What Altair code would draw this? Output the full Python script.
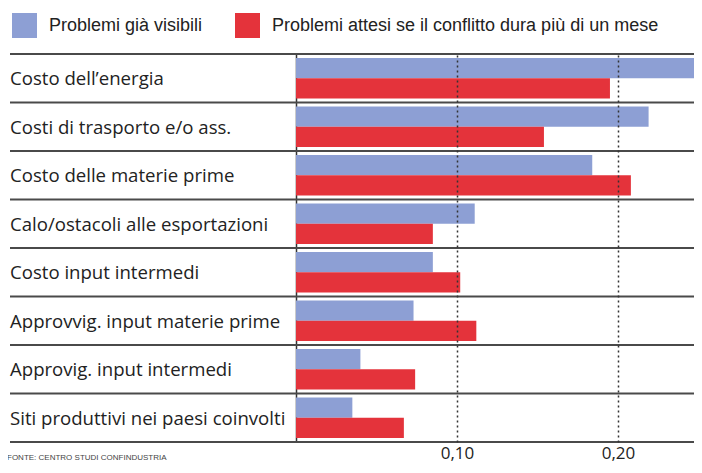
import altair as alt
import pandas as pd

categories = [
    "Costo dell’energia",
    "Costi di trasporto e/o ass.",
    "Costo delle materie prime",
    "Calo/ostacoli alle esportazioni",
    "Costo input intermedi",
    "Approvvig. input materie prime",
    "Approvig. input intermedi",
    "Siti produttivi nei paesi coinvolti",
]
series = ["Problemi già visibili", "Problemi attesi se il conflitto dura più di un mese"]
visibili = [0.251, 0.219, 0.184, 0.111, 0.085, 0.073, 0.040, 0.035]
attesi = [0.195, 0.154, 0.208, 0.085, 0.102, 0.112, 0.074, 0.067]
tick_values = [0.10, 0.20]
source_text = "FONTE: CENTRO STUDI CONFINDUSTRIA"

colors = ["#8d9fd4", "#e4333b"]
W, H = 398, 388
LEFT = -286

rows = []
for c, v, a in zip(categories, visibili, attesi):
    rows.append({"cat": c, "serie": series[0], "value": v})
    rows.append({"cat": c, "serie": series[1], "value": a})
df = pd.DataFrame(rows)
cat_df = pd.DataFrame({"cat": categories})
one = pd.DataFrame({"t": [source_text]})

yscale = alt.Scale(paddingInner=0, paddingOuter=0)

bars = alt.Chart(df).mark_bar(clip=True).encode(
    y=alt.Y("cat:N", sort=categories, scale=yscale,
            axis=alt.Axis(labels=False, ticks=False, domain=True, grid=False,
                          title=None, domainColor="#333", domainWidth=1.5)),
    yOffset=alt.YOffset("serie:N", sort=series,
                        scale=alt.Scale(paddingOuter=0.2, paddingInner=0)),
    x=alt.X("value:Q", scale=alt.Scale(domain=[0, 0.2472], nice=False),
            axis=alt.Axis(values=tick_values, grid=True, gridDash=[2, 3],
                          gridColor="#333", gridWidth=1.5, domain=False,
                          ticks=False, title=None, labelFont="Open Sans",
                          labelFontSize=17, labelColor="#222", labelPadding=3,
                          labelExpr="replace(format(datum.value, '.2f'), '.', ',')",
                          zindex=1)),
    color=alt.Color("serie:N", sort=series,
                    scale=alt.Scale(domain=series, range=colors),
                    legend=alt.Legend(title=None, orient="none", legendX=-284,
                                      legendY=-41, direction="horizontal",
                                      symbolType="square", symbolSize=625,
                                      symbolStrokeWidth=0, labelFont="Liberation Sans",
                                      labelFontSize=18, labelColor="#222",
                                      labelOffset=12, columnPadding=32,
                                      labelLimit=600)),
)

seps = alt.Chart(cat_df).mark_rule(color="#4a4a4a", strokeWidth=2).encode(
    y=alt.Y("cat:N", sort=categories, bandPosition=0),
    x=alt.value(LEFT), x2=alt.value(W),
)

bottom = alt.Chart(one).mark_rule(color="#4a4a4a", strokeWidth=2).encode(
    y=alt.value(H), x=alt.value(LEFT), x2=alt.value(W),
)

labels = alt.Chart(cat_df).mark_text(
    align="left", baseline="middle", font="Open Sans", fontSize=18.6,
    color="#222", dy=1,
).encode(
    y=alt.Y("cat:N", sort=categories),
    x=alt.value(LEFT),
    text="cat:N",
)

source = alt.Chart(one).mark_text(
    align="left", baseline="top", font="Liberation Sans", fontSize=8,
    color="#444",
).encode(x=alt.value(-289), y=alt.value(H + 12), text="t:N")

chart = alt.layer(bars, seps, bottom, labels, source).properties(
    width=W, height=H,
    padding={"left": 288, "top": 46, "right": 0, "bottom": 23},
    autosize=alt.AutoSizeParams(type="none"),
).configure_view(stroke=None).configure(background="white")

chart.save("out.html", embed_options={"renderer": "svg", "actions": False})
